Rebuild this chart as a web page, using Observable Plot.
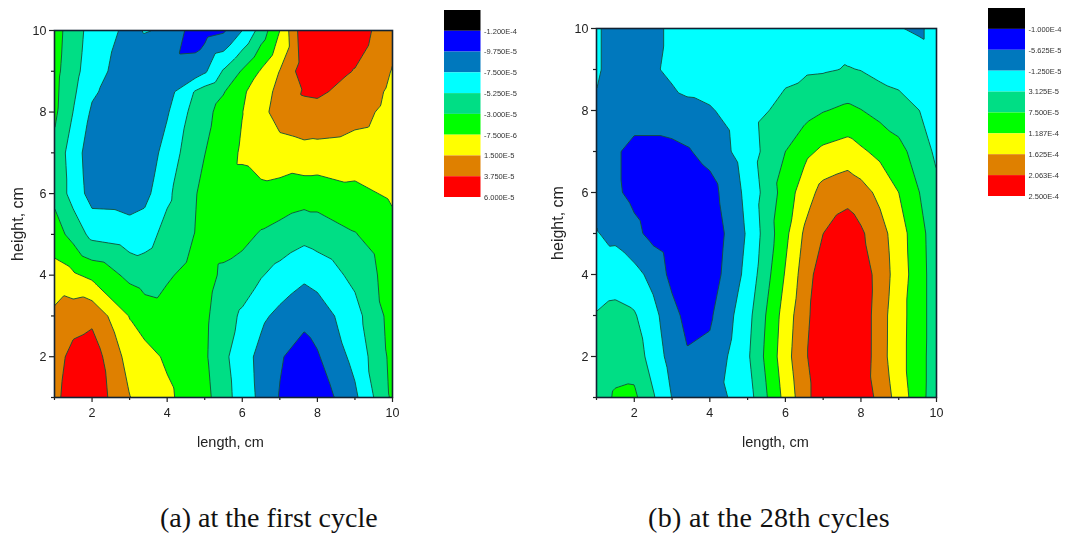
<!DOCTYPE html>
<html><head><meta charset="utf-8">
<script src="https://cdn.jsdelivr.net/npm/d3@7"></script>
<script src="https://cdn.jsdelivr.net/npm/@observablehq/plot@0.6"></script>
<style>
html,body{margin:0;padding:0;background:#fff}
#page{position:relative;width:1077px;height:540px;overflow:hidden}
#page>div{position:absolute}
#page svg{display:block;background:transparent;filter:blur(.35px);overflow:visible}
.cap{font-family:"Liberation Serif",serif;font-size:28px;color:#111;white-space:nowrap}
</style></head><body><div id="page"></div>
<script>
// Band colours, lowest to highest
const bandColors = ["#000000","#0000ff","#0078bd","#00ffff","#00de85","#00ff00","#ffff00","#df8000","#ff0000"];

// Legend boundaries (strain), as printed
const levelsA = [-1.2e-4,-9.75e-5,-7.5e-5,-5.25e-5,-3e-5,-7.5e-6,1.5e-5,3.75e-5,6e-5];
const labelsA = ["-1.200E-4","-9.750E-5","-7.500E-5","-5.250E-5","-3.000E-5","-7.500E-6","1.500E-5","3.750E-5","6.000E-5"];
const levelsB = [-1e-4,-5.625e-5,-1.25e-5,3.125e-5,7.5e-5,1.187e-4,1.625e-4,2.063e-4,2.5e-4];
const labelsB = ["-1.000E-4","-5.625E-5","-1.250E-5","3.125E-5","7.500E-5","1.187E-4","1.625E-4","2.063E-4","2.500E-4"];

// Panel (a): sample positions, and values, one row per length,
// expressed as a position on the legend (0 = first label, 1 = second label, ...)
const heightsA = [1,2,3,4,5,6,7,8,8.5,9,10];
const lengthsA = [1,1.5,2,3,3.4,4,4.75,5,5.5,6,6.5,7,7.65,8,9,10];
const readA = [
 [6.8,6.6,6.2,5.4,4.45,3.75,3.75,4.2,4.25,4.3,4.4],
 [7.4,7.3,6.6,5.15,3.65,2.6,2.45,2.98,3.17,3.35,3.5],
 [7.7,7.55,6.75,4.75,2.7,1.6,1.5,1.85,2.15,2.4,2.6],
 [6.03,5.6,4.95,3.75,2.4,1.55,1.3,1.25,1.3,1.45,1.75],
 [5.65,5.35,4.5,3.55,2.55,1.7,1.35,1.25,1.25,1.3,2.05],
 [5.2,4.85,4.35,3.9,3.35,2.8,2.4,1.9,1.6,1.4,1.9],
 [4.45,4.35,4.25,4.3,4.03,3.94,3.7,3.4,3.08,1.45,0.45],
 [4.3,4.15,4.2,4.4,4.5,4.3,3.98,3.68,3.42,1.85,0.6],
 [3.44,3.24,3.41,3.8,4.45,4.7,4.6,4.4,3.93,3.1,0.85],
 [2.5,2.4,2.85,3.55,4.3,4.7,5.12,4.98,4.85,4.1,2.0],
 [1.78,1.72,2.2,3.07,3.9,4.75,5.46,5.68,5.52,5.1,3.42],
 [0.95,1.08,1.75,2.65,3.65,4.65,5.55,6.45,6.3,6.03,5.0],
 [0.2,0.6,1.25,2.2,3.3,4.45,5.7,6.65,7.1,7.55,7.75],
 [0.35,0.9,1.45,2.4,3.45,4.45,5.65,6.7,7.15,7.6,7.9],
 [1.8,2.3,2.65,3.25,3.95,4.75,5.55,6.35,6.65,6.95,7.6],
 [4.2,4.3,4.4,4.5,4.7,5.15,5.4,5.7,5.8,5.95,6.25]
];

// Panel (b)
const heightsB = [1,2,3,4,5,6,7,8,9,10];
const lengthsB = [1,1.5,2,2.5,3,3.4,4,5,6,6.5,7,7.65,8,8.5,9,9.55,10];
const readB = [
 [3.5,3.35,3.05,2.55,2.05,1.8,1.7,1.9,2.1,2.1],
 [4.12,3.6,3.25,2.6,1.75,1.15,1.15,1.55,1.7,1.7],
 [4.2,3.55,3.1,2.3,1.25,0.75,0.65,1.55,1.6,1.6],
 [3.1,2.57,2.3,1.71,0.7,0.45,0.65,1.55,1.85,1.85],
 [1.97,1.6,1.35,0.7,0.4,0.35,0.75,1.55,2.25,2.12],
 [1.45,1.1,0.7,0.35,0.2,0.25,0.9,1.7,2.6,2.5],
 [1.5,1.25,0.85,0.45,0.3,0.6,1.35,1.9,2.65,2.85],
 [2.55,2.85,2.67,2.3,2.12,2.27,2.5,2.6,2.75,2.85],
 [5.32,5.6,5.45,5.08,4.75,4.45,4.0,3.3,2.75,2.6],
 [6.62,6.85,6.7,6.45,6.13,5.5,4.72,3.6,2.85,2.6],
 [7.7,7.7,7.7,7.6,7.0,6.35,5.2,3.95,2.9,2.65],
 [7.9,7.9,7.9,7.75,7.55,6.65,5.45,4.2,3.05,2.4],
 [7.6,7.7,7.7,7.65,7.15,6.4,5.15,4.03,2.97,2.4],
 [6.72,6.42,6.43,6.55,6.4,5.75,4.75,3.7,2.7,2.3],
 [5.57,5.35,5.38,5.55,5.45,5.0,4.3,3.45,2.55,2.05],
 [4.4,4.4,4.4,4.4,4.35,4.0,3.55,3.0,2.6,1.85],
 [3.35,3.4,3.45,3.45,3.4,3.25,2.8,2.5,2.4,2.4]
];

const page = document.getElementById("page");
function place(node, left, top){
  const d = document.createElement("div");
  d.style.left = left+"px"; d.style.top = top+"px";
  d.appendChild(node); page.appendChild(d); return d;
}
function table(lengths, heights, read, levels){
  const step = levels[1]-levels[0];
  return lengths.flatMap((x,i)=>heights.map((y,j)=>({x,y,v:levels[0]+read[i][j]*step})));
}
function panel(lengths, heights, read, levels, box){
  const data = table(lengths, heights, read, levels);
  return Plot.plot({
    width: box.width, height: box.height,
    marginLeft: box.l, marginRight: box.r, marginTop: box.t, marginBottom: box.b,
    style:{fontFamily:'"Liberation Sans",Arial,sans-serif',fontSize:"12.5px",color:"#222",background:"transparent"},
    x:{domain:[1,10]}, y:{domain:[1,10]},
    color:{type:"threshold",domain:levels,range:["#000000",...bandColors.slice(1),"#ff0000"]},
    marks:[
      Plot.contour(data,{x:"x",y:"y",value:"v",fill:"value",stroke:"#12503a",strokeWidth:0.9,
        thresholds:levels,interpolate:"barycentric",pixelSize:1,clip:true}),
      Plot.frame({stroke:"#123",strokeWidth:1.6}),
      Plot.axisX({ticks:[2,4,6,8,10],tickSize:5,tickPadding:6,label:null,stroke:"#222",strokeWidth:1.2}),
      Plot.axisX({ticks:[1,3,5,7,9],tickSize:3,tickFormat:()=>"",label:null,stroke:"#222",strokeWidth:1.2}),
      Plot.axisY({ticks:[2,4,6,8,10],tickSize:5,tickPadding:3,label:null,stroke:"#222",strokeWidth:1.2}),
      Plot.axisY({ticks:[1,3,5,7,9],tickSize:3,tickFormat:()=>"",label:null,stroke:"#222",strokeWidth:1.2}),
      Plot.text(["length, cm"],{frameAnchor:"bottom",dx:box.ldx,dy:49,fontSize:14.5,fill:"#222"}),
      Plot.text(["height, cm"],{frameAnchor:"left",textAnchor:"middle",dx:-(box.l-17),dy:10,rotate:-90,fontSize:16,fill:"#222"})
    ]
  });
}
function legend(labels, box){
  const idx = d3.range(labels.length);
  return Plot.plot({
    width: box.width, height: box.height,
    marginLeft: box.l, marginRight: box.width-box.l-box.w, marginTop: box.t, marginBottom: box.height-box.t-box.h,
    style:{fontFamily:'"Liberation Sans",Arial,sans-serif',fontSize:"7.5px",color:"#333",background:"transparent"},
    x:{domain:[0,1],axis:null}, y:{domain:[0,labels.length],axis:null,reverse:true},
    marks:[
      Plot.rect(idx,{x1:0,x2:1,y1:i=>i,y2:i=>i+1,fill:i=>bandColors[i]}),
      Plot.text(idx,{x:1,y:i=>i+1,text:i=>labels[i],textAnchor:"start",dx:3,fill:"#333"})
    ]
  });
}
place(panel(lengthsA, heightsA, readA, levelsA, {width:440,height:460,l:54,r:48,t:30,b:63,ldx:7}),0,0);
place(panel(lengthsB, heightsB, readB, levelsB, {width:420,height:460,l:56,r:24,t:28,b:63,ldx:9}),540,0);
place(legend(labelsA,{width:110,height:215,l:4,w:36.5,t:10,h:187}),440,0);
place(legend(labelsB,{width:92,height:215,l:8,w:37,t:8,h:188}),980,0);
const ca = document.createElement("div"); ca.className="cap"; ca.textContent="(a) at the first cycle";
place(ca,160,502);
const cb = document.createElement("div"); cb.className="cap"; cb.style.letterSpacing=".33px"; cb.textContent="(b) at the 28th cycles";
place(cb,648,502);
</script></body></html>
